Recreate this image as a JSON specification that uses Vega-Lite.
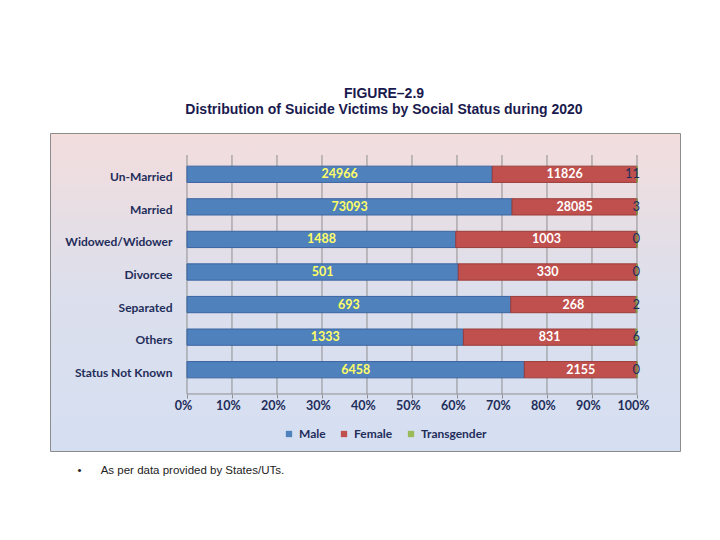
{
  "$schema": "https://vega.github.io/schema/vega-lite/v6.json",
  "width": 630,
  "height": 318,
  "autosize": {"type": "none"},
  "padding": {"left": 50, "top": 133, "right": 40, "bottom": 89},
  "background": "white",
  "title": {
    "text": ["FIGURE–2.9", "Distribution of Suicide Victims by Social Status during 2020"],
    "font": "Liberation Sans",
    "fontSize": 14,
    "fontWeight": "bold",
    "color": "#1a1a4e",
    "anchor": "middle",
    "dx": 19,
    "offset": 16,
    "lineHeight": 16
  },
  "config": {
    "view": {
      "fill": {
        "gradient": "linear",
        "x1": 0, "y1": 0, "x2": 0, "y2": 1,
        "stops": [
          {"offset": 0, "color": "#f3dddd"},
          {"offset": 0.5, "color": "#dcdfec"},
          {"offset": 1, "color": "#d5dff2"}
        ]
      },
      "stroke": "#8c8c8c",
      "strokeWidth": 1
    }
  },
  "datasets": {
    "victims": [
      {"status": "Un-Married", "gender": "Male", "count": 24966},
      {"status": "Un-Married", "gender": "Female", "count": 11826},
      {"status": "Un-Married", "gender": "Transgender", "count": 11},
      {"status": "Married", "gender": "Male", "count": 73093},
      {"status": "Married", "gender": "Female", "count": 28085},
      {"status": "Married", "gender": "Transgender", "count": 3},
      {"status": "Widowed/Widower", "gender": "Male", "count": 1488},
      {"status": "Widowed/Widower", "gender": "Female", "count": 1003},
      {"status": "Widowed/Widower", "gender": "Transgender", "count": 0},
      {"status": "Divorcee", "gender": "Male", "count": 501},
      {"status": "Divorcee", "gender": "Female", "count": 330},
      {"status": "Divorcee", "gender": "Transgender", "count": 0},
      {"status": "Separated", "gender": "Male", "count": 693},
      {"status": "Separated", "gender": "Female", "count": 268},
      {"status": "Separated", "gender": "Transgender", "count": 2},
      {"status": "Others", "gender": "Male", "count": 1333},
      {"status": "Others", "gender": "Female", "count": 831},
      {"status": "Others", "gender": "Transgender", "count": 6},
      {"status": "Status Not Known", "gender": "Male", "count": 6458},
      {"status": "Status Not Known", "gender": "Female", "count": 2155},
      {"status": "Status Not Known", "gender": "Transgender", "count": 0}
    ],
    "ticks": [
      {"t": 0}, {"t": 0.1}, {"t": 0.2}, {"t": 0.3}, {"t": 0.4}, {"t": 0.5},
      {"t": 0.6}, {"t": 0.7}, {"t": 0.8}, {"t": 0.9}, {"t": 1}
    ]
  },
  "layer": [
    {
      "data": {"name": "ticks"},
      "mark": {"type": "rule", "color": "#8f8f8f", "strokeWidth": 1},
      "encoding": {
        "x": {"field": "t", "type": "quantitative", "scale": {"domain": [-0.3044, 1.0956], "nice": false, "zero": false}},
        "y": {"datum": "Un-Married", "type": "nominal", "bandPosition": -0.684},
        "y2": {"datum": "Status Not Known", "bandPosition": 1.99}
      }
    },
    {
      "data": {"name": "ticks"},
      "mark": {"type": "rule", "color": "#8f8f8f", "strokeWidth": 1},
      "encoding": {
        "x": {"aggregate": "min", "field": "t", "type": "quantitative"},
        "x2": {"aggregate": "max", "field": "t"},
        "y": {"datum": "Status Not Known", "type": "nominal", "bandPosition": 1.99}
      }
    },
    {
      "data": {"name": "victims"},
      "transform": [{"calculate": "indexof(['Male','Female','Transgender'], datum.gender)", "as": "ord"}],
      "mark": {"type": "bar", "strokeWidth": 1},
      "encoding": {
        "y": {
          "field": "status", "type": "nominal",
          "scale": {
            "domain": ["Un-Married", "Married", "Widowed/Widower", "Divorcee", "Separated", "Others", "Status Not Known"],
            "range": [25, 253], "paddingInner": 0.5, "paddingOuter": 0.25
          },
          "axis": {
            "offset": -137, "domain": false, "ticks": false, "grid": false, "title": null,
            "labelPadding": 15, "labelOffset": 3, "labelFont": "Lato", "labelFontSize": 12, "labelFontWeight": "bold", "labelColor": "#1f2d5a"
          }
        },
        "x": {
          "field": "count", "type": "quantitative", "stack": "normalize",
          "scale": {"domain": [-0.3044, 1.0956], "nice": false, "zero": false},
          "axis": {
            "values": [0, 0.1, 0.2, 0.3, 0.4, 0.5, 0.6, 0.7, 0.8, 0.9, 1],
            "format": ".0%", "offset": -57, "grid": false, "domain": false,
            "ticks": true, "tickSize": 4, "tickColor": "#8f8f8f", "labelPadding": 1, "labelOffset": -4, "labelFlush": false,
            "labelFont": "Lato", "labelFontSize": 12.5, "labelFontWeight": "bold", "labelColor": "#1f2d5a",
            "title": "•\u00a0\u00a0\u00a0\u00a0\u00a0\u00a0As per data provided by States/UTs.",
            "titleX": 27, "titleY": 76, "titleAlign": "left", "titleAnchor": "start", "titleBaseline": "middle",
            "titleFont": "Liberation Sans", "titleFontSize": 11.5, "titleFontWeight": "normal", "titleColor": "#222222"
          }
        },
        "color": {
          "field": "gender", "type": "nominal",
          "scale": {"domain": ["Male", "Female", "Transgender"], "range": ["#4f81bd", "#c0504d", "#9bbb59"]},
          "legend": {
            "orient": "none", "legendX": 233, "legendY": 295, "direction": "horizontal", "title": null,
            "symbolType": "square", "symbolSize": 40, "symbolStrokeWidth": 0, "columnPadding": 12,
            "labelFont": "Lato", "labelFontSize": 12, "labelFontWeight": "bold", "labelColor": "#1f2d5a"
          }
        },
        "stroke": {
          "field": "gender", "type": "nominal",
          "scale": {"domain": ["Male", "Female", "Transgender"], "range": ["#3b64a0", "#9a3d3a", "#7a9644"]},
          "legend": null
        },
        "order": {"field": "ord", "type": "quantitative"}
      }
    },
    {
      "data": {"name": "victims"},
      "transform": [{"calculate": "indexof(['Male','Female','Transgender'], datum.gender)", "as": "ord"}],
      "mark": {"type": "text", "font": "Lato", "fontSize": 12.5, "fontWeight": "bold", "align": "center", "baseline": "middle"},
      "encoding": {
        "y": {"field": "status", "type": "nominal"},
        "x": {"field": "count", "type": "quantitative", "stack": "normalize", "bandPosition": 0.5},
        "detail": {"field": "gender"},
        "order": {"field": "ord", "type": "quantitative"},
        "text": {"field": "count", "type": "quantitative"},
        "color": {"condition": {"test": "datum.gender === 'Male'", "value": "#ffff66"}, "value": "#ffffff"},
        "opacity": {"condition": {"test": "datum.gender === 'Transgender'", "value": 0}, "value": 1}
      }
    },
    {
      "data": {"name": "victims"},
      "transform": [{"filter": "datum.gender === 'Transgender'"}],
      "mark": {"type": "text", "font": "Lato", "fontSize": 13, "align": "right", "baseline": "middle", "dx": 3, "color": "#1f2d5a"},
      "encoding": {
        "y": {"field": "status", "type": "nominal"},
        "x": {"datum": 1, "type": "quantitative"},
        "text": {"field": "count", "type": "quantitative"}
      }
    }
  ]
}
